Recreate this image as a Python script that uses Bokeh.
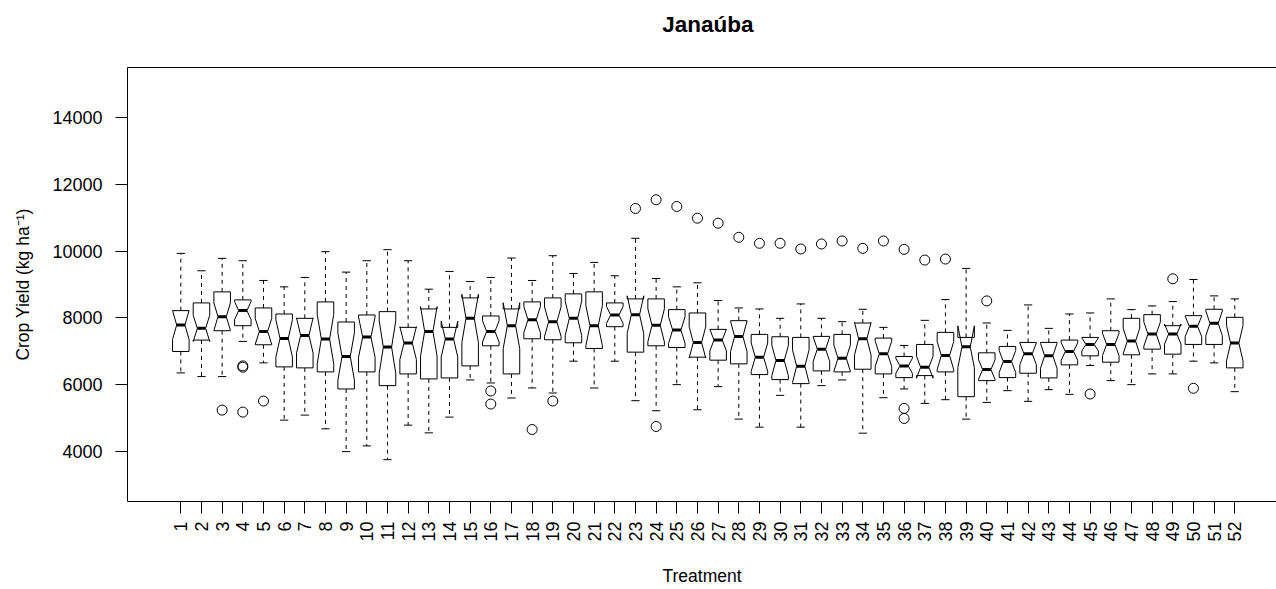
import math
from bokeh.plotting import figure
from bokeh.models import Range1d, FixedTicker, LinearAxis
from bokeh.embed import file_html
from bokeh.resources import INLINE

# ---------------- data ----------------
treatments = list(range(1, 53))

whisker_low = [6360, 6250, 6250, 7300, 6660, 4950, 5100, 4690, 4010, 4180,
               3770, 4800, 4570, 5040, 6150, 6060, 5610, 5910, 5760, 6710,
               5910, 6710, 5530, 5230, 6010, 5260, 5950, 4980, 4740, 5690,
               4740, 5980, 6150, 4560, 5620, 5880, 5450, 5560, 4980, 5480,
               5830, 5510, 5860, 5720, 6580, 6130, 6010, 6330, 6330, 6710,
               6660, 5800]

q1 = [7000, 7340, 7620, 7770, 7200, 6540, 6510, 6390, 5880, 6390,
      5980, 6330, 6180, 6210, 6570, 7170, 6330, 7380, 7350, 7260,
      7090, 7740, 6980, 7170, 7120, 6830, 6740, 6630, 6310, 6160,
      6040, 6420, 6390, 6470, 6330, 6220, 6280, 6390, 5650, 6130,
      6220, 6350, 6210, 6600, 6870, 6680, 6900, 7070, 6920, 7210,
      7210, 6510]

median = [7790, 7690, 8040, 8220, 7600, 7390, 7480, 7370, 6850, 7430,
          7130, 7250, 7600, 7370, 7990, 7600, 7770, 7950, 7890, 7990,
          7770, 8090, 8100, 7780, 7640, 7270, 7340, 7450, 6830, 6730,
          6560, 7070, 6800, 7380, 6930, 6570, 6530, 6880, 7140, 6460,
          6700, 6930, 6870, 7000, 7210, 7210, 7310, 7520, 7520, 7750,
          7840, 7250]

q3 = [8220, 8450, 8780, 8540, 8300, 8120, 7990, 8480, 7880, 8090,
      8190, 7720, 8270, 7720, 8600, 8060, 8270, 8480, 8600, 8720,
      8780, 8450, 8570, 8570, 8250, 8150, 7660, 7920, 7510, 7440,
      7420, 7450, 7510, 7850, 7400, 6850, 7210, 7570, 7420, 6960,
      7150, 7270, 7270, 7340, 7420, 7620, 7990, 8100, 7770, 8070,
      8260, 8020]

whisker_high = [9930, 9410, 9780, 9710, 9120, 8930, 9210, 9980, 9370, 9710,
                10040, 9710, 8860, 9390, 9090, 9210, 9790, 9120, 9860, 9330,
                9660, 9260, 10380, 9180, 8930, 9050, 8520, 8300, 8270, 7990,
                8420, 7990, 7890, 8260, 7720, 7180, 7930, 8550, 9480, 7850,
                7630, 8390, 7690, 8120, 8150, 8570, 8250, 8360, 8490, 9150,
                8660, 8570]

outlier_treatment = [3, 4, 4, 4, 5, 16, 16, 18, 19, 23, 24, 24, 25, 26, 27,
                     28, 29, 30, 31, 32, 33, 34, 35, 36, 36, 36, 37, 38, 40,
                     45, 49, 50]
outlier_value = [5250, 6570, 6530, 5190, 5520, 5820, 5430, 4670, 5520, 11270,
                 11530, 4760, 11330, 10980, 10830, 10410, 10230, 10230, 10060,
                 10210, 10300, 10080, 10300, 10050, 5300, 5000, 9730, 9760,
                 8510, 5730, 9170, 5900]

y_ticks = [4000, 6000, 8000, 10000, 12000, 14000]
n_obs = 20          # observations per treatment (sets notch depth)
title_text = "Janaúba"

# ---------------- style ----------------
FONT = "Liberation Sans"
BOXWEX = 0.8
HALF = BOXWEX / 2
NOTCH_FRAC = 0.5
STAPLE = 0.5 * HALF

W, H = 1276, 589
MB_L, MB_R, MB_T, MB_B = 127, 0, 67, 88

p = figure(width=W, height=H,
           x_range=Range1d(-1.58, 54.02), y_range=Range1d(2520, 15480),
           output_backend="svg", toolbar_location=None,
           min_border_left=MB_L, min_border_right=MB_R,
           min_border_top=MB_T, min_border_bottom=MB_B,
           background_fill_color="white", border_fill_color="white")
p.outline_line_color = None
p.xgrid.visible = False
p.ygrid.visible = False

# ---------------- boxplot geometry ----------------
xs_poly, ys_poly = [], []
wx0, wx1, wy0, wy1 = [], [], [], []
sx0, sx1, sy = [], [], []
mx0, mx1, my = [], [], []
for i, t in enumerate(treatments):
    lo, a, m, b, hi = whisker_low[i], q1[i], median[i], q3[i], whisker_high[i]
    half_notch = 1.58 * (b - a) / math.sqrt(n_obs)
    c_lo, c_hi = m - half_notch, m + half_notch
    xs_poly.append([t - HALF, t + HALF, t + HALF, t + HALF * NOTCH_FRAC, t + HALF,
                    t + HALF, t - HALF, t - HALF, t - HALF * NOTCH_FRAC, t - HALF])
    ys_poly.append([a, a, c_lo, m, c_hi, b, b, c_hi, m, c_lo])
    wx0 += [t, t]; wx1 += [t, t]; wy0 += [b, a]; wy1 += [hi, lo]
    sx0 += [t - STAPLE, t - STAPLE]; sx1 += [t + STAPLE, t + STAPLE]; sy += [hi, lo]
    mx0.append(t - HALF * NOTCH_FRAC); mx1.append(t + HALF * NOTCH_FRAC); my.append(m)

p.segment(x0=wx0, y0=wy0, x1=wx1, y1=wy1, line_color="black", line_width=1,
          line_dash="4 4")
p.segment(x0=sx0, y0=sy, x1=sx1, y1=sy, line_color="black", line_width=1)
p.patches(xs_poly, ys_poly, fill_color="white", line_color="black", line_width=1)
p.segment(x0=mx0, y0=my, x1=mx1, y1=my, line_color="black", line_width=3)
p.scatter(outlier_treatment, outlier_value, marker="circle", size=10,
          fill_color=None, line_color="black", line_width=1)

# ---------------- axes ----------------
for ax in (p.xaxis[0], p.yaxis[0]):
    ax.axis_line_color = "black"
    ax.major_tick_line_color = "black"
    ax.minor_tick_line_color = None
    ax.major_tick_in = 0
    ax.major_tick_out = 12
    ax.major_label_text_font = FONT
    ax.major_label_text_font_size = "18px"
    ax.major_label_text_color = "black"
    ax.axis_label_text_font = FONT
    ax.axis_label_text_font_size = "17.5px"
    ax.axis_label_text_font_style = "normal"
    ax.axis_label_text_color = "black"

p.xaxis.ticker = FixedTicker(ticks=treatments)
p.xaxis.major_label_orientation = math.pi / 2
p.xaxis.major_label_standoff = 8
p.xaxis.axis_label = "Treatment"
p.xaxis.axis_label_standoff = 21

p.yaxis.ticker = FixedTicker(ticks=y_ticks)
p.yaxis.major_label_standoff = 13
p.yaxis.axis_label = "Crop Yield (kg ha⁻¹)"
p.yaxis.axis_label_standoff = 16

# top frame line; the title sits over the centre of the full R plot region
centre_x = (0.5 + len(treatments) + 0.5) / 2
top = LinearAxis(ticker=FixedTicker(ticks=[centre_x]), axis_line_color="black",
                 major_tick_line_color=None, minor_tick_line_color=None,
                 major_tick_in=0, major_tick_out=0, major_label_standoff=31,
                 major_label_overrides={centre_x: title_text},
                 major_label_text_font=FONT, major_label_text_font_size="22.5px",
                 major_label_text_font_style="bold", major_label_text_color="black")
p.add_layout(top, "above")

open("out.html", "w").write(file_html(p, INLINE))
